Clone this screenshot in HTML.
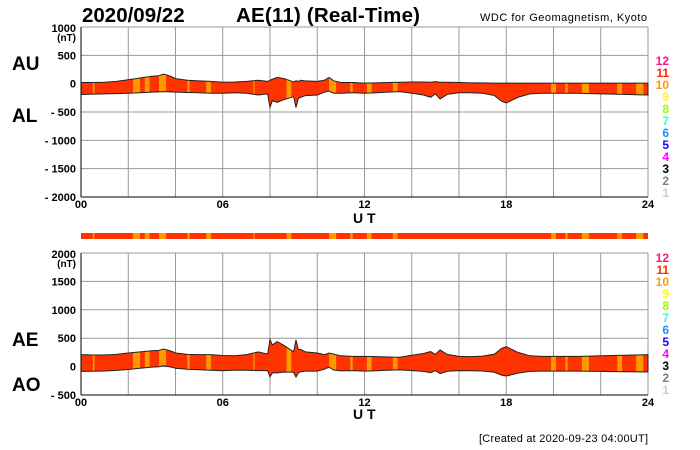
<!DOCTYPE html>
<html><head><meta charset="utf-8"><style>
body{margin:0;background:#fff;}
svg{display:block;font-family:"Liberation Sans",Arial,sans-serif;font-weight:bold;}
</style></head><body>
<svg id="c" width="700" height="450" viewBox="0 0 700 450">
<text x="82" y="22" font-size="20.5">2020/09/22</text>
<text x="236" y="22" font-size="20.5" textLength="184">AE(11) (Real-Time)</text>
<text x="480" y="21" font-size="11" font-weight="normal" textLength="167">WDC for Geomagnetism, Kyoto</text>
<text x="12" y="70" font-size="19">AU</text>
<text x="12" y="122" font-size="19">AL</text>
<text x="12" y="346" font-size="19">AE</text>
<text x="12" y="391" font-size="19">AO</text>
<text x="353" y="223" font-size="14">U T</text>
<text x="353" y="419" font-size="14">U T</text>
<text x="479" y="442" font-size="11" font-weight="normal" textLength="169">[Created at 2020-09-23 04:00UT]</text>
<g id="top"></g>
<g id="bot"></g>
<g id="bar"></g>
<g id="leg"></g>
</svg>
<script>
const hours=[0,0.5,1,1.5,2,2.5,3,3.3,3.5,3.8,4,4.5,5,5.5,6,6.5,7,7.5,7.9,8.0,8.1,8.3,8.6,9,9.1,9.2,9.3,9.5,10,10.3,10.5,10.7,11,11.5,12,12.5,13,13.5,14,14.5,14.8,15,15.2,15.5,16,16.5,17,17.5,17.8,18,18.5,19,19.5,20,20.5,21,21.5,22,22.5,23,23.5,24];
const auVals=[20,20,25,40,70,100,130,140,170,130,90,60,50,40,25,30,40,60,40,60,80,110,90,30,50,40,60,50,40,60,110,50,20,20,10,15,20,25,30,30,25,35,25,25,20,15,15,10,10,10,10,10,10,10,10,10,10,10,10,10,10,10];
const alVals=[-190,-185,-180,-175,-170,-160,-150,-145,-140,-145,-150,-155,-160,-170,-170,-160,-170,-200,-180,-420,-300,-330,-280,-230,-420,-260,-240,-210,-200,-150,-130,-170,-170,-160,-170,-160,-150,-140,-170,-200,-240,-180,-270,-190,-160,-160,-170,-210,-310,-340,-240,-180,-170,-170,-170,-170,-175,-180,-185,-190,-195,-200];
const orangeStart=[0.5,2.2,2.7,3.3,4.5,5.3,7.3,8.7,10.5,11.4,12.1,13.2,19.9,20.5,21.2,22.7,23.5];
const orangeEnd=[0.57,2.5,2.9,3.6,4.6,5.5,7.35,8.9,10.8,11.5,12.3,13.4,20.1,20.6,21.5,22.9,23.8];
const legendNums=[12,11,10,9,8,7,6,5,4,3,2,1];
const legendColors=["#ff1480","#ff2a00","#ff9900","#ffff00","#99ff00","#33ffcc","#1e90ff","#2200ff","#ff00ff","#000000","#808080","#cccccc"];
const topTicks=[1000,500,0,-500,-1000,-1500,-2000];
const botTicks=[2000,1500,1000,500,0,-500];
const xLabels=["00","06","12","18","24"];
const NS="http://www.w3.org/2000/svg";
const X0=81,X1=648;
const xs=h=>X0+(X1-X0)*h/24;
function mk(t,a,p){const e=document.createElementNS(NS,t);for(const k in a)e.setAttribute(k,a[k]);(p||document.getElementById('c')).appendChild(e);return e;}
function panel(g,id,yTop,yBot,vmax,vmin,ticks,upper,lower,legY){
  const ys=v=>yTop+(vmax-v)*(yBot-yTop)/(vmax-vmin);
  for(let i=0;i<=12;i++){const l=mk('line',{x1:xs(i*2),x2:xs(i*2),y1:yTop,y2:yBot,stroke:'#999','stroke-width':1},g);}
  ticks.forEach((v,i)=>{const l=mk('line',{x1:X0,x2:X1,y1:ys(v),y2:ys(v),stroke:'#999','stroke-width':1},g);
    const t=mk('text',{x:76,y:ys(v)+4+(i==0?1:0),'text-anchor':'end','font-size':11},g);t.textContent=v<0?'- '+(-v):String(v);});
  const u=mk('text',{x:76,y:ys(ticks[0])+14,'text-anchor':'end','font-size':10},g);u.textContent='(nT)';
  xLabels.forEach((s,i)=>{const t=mk('text',{x:xs(i*6),y:yBot+11,'text-anchor':'middle','font-size':11},g);t.textContent=s;});
  let pts=hours.map((h,i)=>xs(h)+','+ys(upper[i]));
  for(let i=hours.length-1;i>=0;i--)pts.push(xs(hours[i])+','+ys(lower[i]));
  const cp=mk('clipPath',{id:id},g);mk('polygon',{points:pts.join(' ')},cp);
  const gg=mk('g',{'clip-path':'url(#'+id+')'},g);
  const bg=mk('rect',{x:X0,y:yTop,width:X1-X0,height:yBot-yTop,fill:'#ff3300'},gg);
  orangeStart.forEach((s,i)=>{const r=mk('rect',{x:xs(s),y:yTop,width:xs(orangeEnd[i])-xs(s),height:yBot-yTop,fill:'#ff9900'},gg);});
  const ol=mk('polygon',{points:pts.join(' '),fill:'none',stroke:'#222','stroke-width':1},g);
  const ax=mk('line',{x1:X0,x2:X0,y1:yTop,y2:yBot,stroke:'#000'},g);
  const bx=mk('line',{x1:X0,x2:X1,y1:yBot,y2:yBot,stroke:'#000'},g);
  legendNums.forEach((n,i)=>{const t=mk('text',{x:669,y:legY+i*12,'text-anchor':'end','font-size':12,fill:legendColors[i]},document.getElementById('leg'));t.textContent=n;});
}
panel(document.getElementById('top'),'cpTop',27,197,1000,-2000,topTicks,auVals,alVals,65);
const aeVals=auVals.map((v,i)=>v-alVals[i]);
const aoVals=auVals.map((v,i)=>(v+alVals[i])/2);
panel(document.getElementById('bot'),'cpBot',253,395,2000,-500,botTicks,aeVals,aoVals,262);
const bar=document.getElementById('bar');
const br=mk('rect',{x:X0,y:233,width:X1-X0,height:6,fill:'#ff3300'},bar);
orangeStart.forEach((s,i)=>{const r=mk('rect',{x:xs(s),y:233,width:xs(orangeEnd[i])-xs(s),height:6,fill:'#ff9900'},bar);});
</script>
</body></html>
